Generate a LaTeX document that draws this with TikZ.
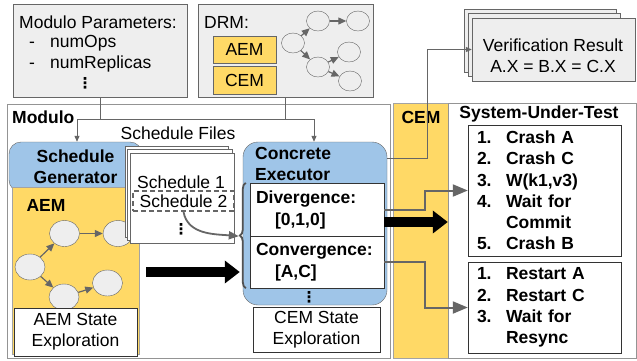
\documentclass[tikz,border=0pt]{standalone}
\usepackage{fontspec}
\setmainfont{Liberation Sans}
\newfontfamily\dotsfam{DejaVu Sans}
\usetikzlibrary{arrows.meta,shapes.geometric,decorations.pathreplacing}

\definecolor{boxgray}{HTML}{EEEEEE}
\definecolor{linegray}{HTML}{666666}
\definecolor{aemyellow}{HTML}{FFD966}
\definecolor{genblue}{HTML}{9FC5E8}

\newcommand{\fs}{\fontsize{17.5}{21}\selectfont}

\tikzset{
  txt/.style={font=\fs, inner sep=0pt},
  bold/.style={font=\fs\bfseries, inner sep=0pt},
  dots/.style={font=\dotsfam\bfseries\fontsize{15}{15}\selectfont, inner sep=0pt},
  panel/.style={draw=linegray, fill=boxgray, inner sep=0pt},
  mode/.style={draw=linegray, fill=aemyellow, minimum width=63pt, inner sep=0pt, font=\fs},
  page/.style={draw=linegray, fill=white, inner sep=0pt},
  frame/.style={draw=linegray!70, fill=white, inner sep=0pt},
  band/.style={draw=linegray!60, fill=aemyellow, inner sep=0pt},
  gen/.style={draw=linegray, fill=genblue, rounded corners=12pt, inner sep=0pt},
  st/.style={ellipse, draw=linegray, fill=boxgray, inner sep=0pt},
  note/.style={draw=black!80, fill=white, inner sep=0pt, align=center, font=\fs},
  res/.style={draw=black!80, fill=white, inner sep=0pt, minimum width=134pt, text width=122pt, align=left, font=\fontsize{17.5}{22}\selectfont\bfseries},
  steps/.style={draw=black!80, fill=white, inner sep=0pt, minimum width=153pt, text width=135pt, align=left, font=\fontsize{17.5}{21.2}\selectfont\bfseries},
  edge/.style={draw=linegray, line width=1.2pt, -{Triangle[length=8pt,width=7pt]}},
  thinarrow/.style={draw=linegray, line width=1pt, -{Triangle[length=6pt,width=5pt]}},
  bus/.style={draw=linegray, line width=1pt},
  flow/.style={draw=linegray, line width=2pt, -{Triangle[length=15pt,width=12pt]}},
  bigarrow/.style={draw=black, line width=10pt, -{Triangle[length=15pt,width=22pt]}},
  brace/.style={decorate, decoration={brace, amplitude=6pt}, draw=linegray!80!black, line width=1.8pt},
}

\begin{document}
\begin{tikzpicture}[x=1pt,y=-1pt]
 \useasboundingbox (0,0) rectangle (637,360);

	% Parametres
 \node[panel, minimum width=174pt, minimum height=93pt] (params) at (100,50.5) {};
 \node[txt, anchor=west] (ptitle) at (19,22) {Modulo Parameters:};
 \node[txt, anchor=west] (pops) at (29,43) {\makebox[21pt][l]{-}numOps};
 \node[txt, anchor=west] (preps) at (29,64) {\makebox[21pt][l]{-}numReplicas};
 \node[dots] (pdots) at (85,83) {⋮};

	% DRM
 \node[panel, minimum width=175pt, minimum height=93pt] (drm) at (285.5,50.5) {};
 \node[txt, anchor=west] (drmtitle) at (204,22) {DRM:};
 \node[mode, minimum height=27pt] (drmaem) at (244.5,49.5) {AEM};
 \node[mode, minimum height=28pt] (drmcem) at (244.5,80) {CEM};
 \node[st, minimum width=23pt, minimum height=20pt] (d1) at (293,43) {};
 \node[st, minimum width=23pt, minimum height=20pt] (d2) at (318,21) {};
 \node[st, minimum width=23pt, minimum height=20pt] (d3) at (358,21) {};
 \node[st, minimum width=23pt, minimum height=20pt] (d4) at (318,67) {};
 \node[st, minimum width=23pt, minimum height=20pt] (d5) at (349,52) {};
 \node[st, minimum width=23pt, minimum height=20pt] (d6) at (350,81) {};
 \draw[edge] (d1) -- (d2);
 \draw[edge] (d2) -- (d3);
 \draw[edge] (d1) -- (d4);
 \draw[edge] (d4) -- (d5);
 \draw[edge] (d4) -- (d6);

	% Resultat
 \node[panel, minimum width=152pt, minimum height=63pt] (ver3) at (540,40.5) {};
 \node[panel, minimum width=152pt, minimum height=63pt] (ver2) at (544,44.5) {};
 \node[panel, minimum width=163pt, minimum height=63pt] (ver) at (553.5,49.5) {};
 \node[txt, align=center] (vertxt) at (553,55.5) {Verification Result\\A.X = B.X = C.X};

	% Modulo
 \node[frame, minimum width=383pt, minimum height=254pt] (modulo) at (198.5,231) {};
 \node[bold, anchor=west] (modtitle) at (12,117) {Modulo};
 \coordinate (busL) at (77,119);
 \coordinate (busR) at (314,119);
 \draw[bus] (params.south) -- (params.south |- busL);
 \draw[bus] (drm.south) -- (drm.south |- busR);
 \draw[bus] (busL) -- (busR);

	% AEM
 \node[gen, minimum width=133pt, minimum height=50pt, align=center, font=\fs\bfseries] (gen) at (75.5,167) {Schedule\\Generator};
 \node[band, minimum width=127pt, minimum height=167pt] (aem) at (75.5,270.5) {};
 \node[bold] (aemtitle) at (46,205) {AEM};
 \node[st, minimum width=30pt, minimum height=26pt] (a1) at (30,267) {};
 \node[st, minimum width=30pt, minimum height=26pt] (a2) at (64.5,233.5) {};
 \node[st, minimum width=30pt, minimum height=26pt] (a3) at (118,233.5) {};
 \node[st, minimum width=30pt, minimum height=26pt] (a4) at (64,297) {};
 \node[st, minimum width=30pt, minimum height=26pt] (a5) at (107.5,283) {};
 \draw[edge] (a1) -- (a2);
 \draw[edge] (a2) -- (a3);
 \draw[edge] (a1) -- (a4);
 \draw[edge] (a4) -- (a5);
 \node[note, minimum width=123pt, minimum height=48pt] (aemstate) at (75.5,332) {AEM State\\Exploration};

	% Fichiers
 \node[txt] (filestitle) at (178,133) {Schedule Files};
 \node[page, minimum width=103pt, minimum height=91pt] (files3) at (176.5,191.5) {};
 \node[page, minimum width=105pt, minimum height=91pt] (files2) at (179.5,194.5) {};
 \node[page, minimum width=104pt, minimum height=90pt] (files) at (182,198) {};
 \node[txt] (sched1) at (181,182) {Schedule 1};
 \node[txt, draw=linegray, line width=1.5pt, dash pattern=on 5pt off 3pt, minimum width=101pt, minimum height=20pt] (sched2) at (183.5,201) {Schedule 2};
 \node[dots] (fdots) at (181,229) {⋮};

	% Executeur
 \node[gen, rounded corners=15pt, minimum width=144pt, minimum height=163pt] (exec) at (315,223.5) {};
 \node[bold, anchor=west, align=left] (exectxt) at (255,164) {Concrete\\Executor};
 \node[res, minimum height=53pt] (div) at (317,209.5) {Divergence:\\\hspace*{19pt}[0,1,0]};
 \node[res, minimum height=52pt] (conv) at (317,262) {Convergence:\\\hspace*{19pt}[A,C]};
 \node[dots] (edots) at (309,297) {⋮};
 \node[note, minimum width=127pt, minimum height=45pt] (cemstate) at (316.5,329.5) {CEM State\\Exploration};
 \draw[brace] ([xshift=-4pt]conv.south west) -- ([xshift=-4pt]div.north west);
 \coordinate (btip) at ([xshift=-11pt]div.south west);
 \draw[line width=1.8pt, draw=linegray, -{Triangle[length=10pt,width=8pt]}] (sched2.south) to[out=-80, in=175] (btip);

 \draw[thinarrow] (busL) -- (busL |- gen.north);
 \draw[thinarrow] (busR) -- (busR |- exec.north);

	% CEM et systeme
 \node[band, minimum width=55pt, minimum height=255pt] (cem) at (420.5,230.5) {};
 \node[bold] (cemtitle) at (421,117) {CEM};
 \node[frame, minimum width=188pt, minimum height=255pt] (sut) at (542,230.5) {};
 \node[bold] (suttitle) at (539,114) {System-Under-Test};
 \node[steps, minimum height=131pt] (steps1) at (544.5,190.5) {\makebox[29pt][l]{1.}Crash A\\\makebox[29pt][l]{2.}Crash C\\\makebox[29pt][l]{3.}W(k1,v3)\\\makebox[29pt][l]{4.}Wait for\\\hspace*{29pt}Commit\\\makebox[29pt][l]{5.}Crash B};
 \node[steps, minimum height=91pt] (steps2) at (544.5,307.5) {\makebox[29pt][l]{1.}Restart A\\\makebox[29pt][l]{2.}Restart C\\\makebox[29pt][l]{3.}Wait for\\\hspace*{29pt}Resync};

	% Liaisons
 \coordinate (push) at (146,272);
 \draw[bigarrow, shorten >=3pt] (push) -- (push -| exec.west);
 \coordinate (push2) at ([yshift=-12.5pt]div.east);
 \draw[bigarrow] (push2) -- (push2 -| sut.west);
 \draw[flow] (div.east) -- ++(41,0) |- (steps1.west);
 \draw[flow] (conv.east) -- ++(41,0) |- (steps2.west);
 \draw[thinarrow] (exec.east |- 0,158) -- ++(40,0) |- (ver.west);

\end{tikzpicture}
\end{document}
